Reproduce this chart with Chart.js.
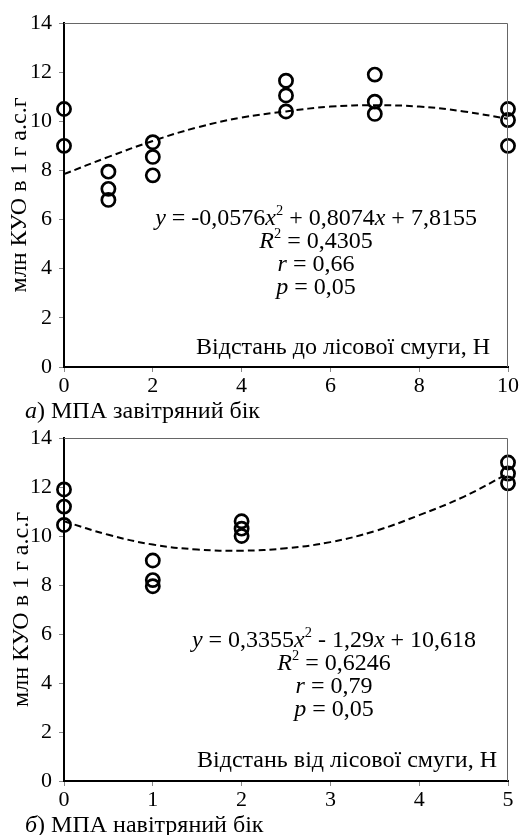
<!DOCTYPE html>
<html>
<head>
<meta charset="utf-8">
<script src="https://cdn.jsdelivr.net/npm/chart.js@4/dist/chart.umd.min.js"></script>
<style>
  html, body { margin: 0; padding: 0; background: #fff; }
  body { width: 520px; height: 835px; position: relative; overflow: hidden; }
  canvas { position: absolute; left: 0; }
  #c1 { top: 0; }
  #c2 { top: 415px; }
</style>
</head>
<body>
<canvas id="c1" width="520" height="430"></canvas>
<canvas id="c2" width="520" height="420"></canvas>
<script>
// ---------- DATA ----------
// Chart a) leeward side
const topX = [0, 0, 1, 1, 1, 2, 2, 2, 5, 5, 5, 7, 7, 7, 10, 10, 10];
const topY = [10.5, 9.0, 7.95, 7.25, 6.8, 9.15, 8.55, 7.8, 11.65, 11.05, 10.4, 11.9, 10.8, 10.3, 10.5, 10.05, 9.0];
const topTrendX = [0, 1, 2, 3, 4, 5, 6, 7, 8, 9, 10];
const topTrendY = [7.85, 8.55, 9.2, 9.75, 10.15, 10.4, 10.6, 10.65, 10.6, 10.4, 10.1];
const topXTicks = [0, 2, 4, 6, 8, 10];

// Chart b) windward side
const botX = [0, 0, 0, 1, 1, 1, 2, 2, 2, 5, 5, 5];
const botY = [11.9, 11.2, 10.45, 9.0, 8.2, 7.95, 10.6, 10.3, 10.0, 13.0, 12.55, 12.15];
const botTrendX = [0, 0.5, 1, 1.5, 2, 2.5, 3, 3.5, 4, 4.5, 5];
const botTrendY = [10.6, 10.05, 9.65, 9.45, 9.4, 9.5, 9.75, 10.2, 10.85, 11.6, 12.55];
const botXTicks = [0, 1, 2, 3, 4, 5];

const yTicks = [0, 2, 4, 6, 8, 10, 12, 14];

const yTitle = 'млн КУО в 1 г а.с.г';
const topEq = [
  [{t:'y', i:1}, {t:' = -0,0576'}, {t:'x', i:1}, {t:'2', s:1}, {t:' + 0,8074'}, {t:'x', i:1}, {t:' + 7,8155'}],
  [{t:'R', i:1}, {t:'2', s:1}, {t:' = 0,4305'}],
  [{t:'r', i:1}, {t:' = 0,66'}],
  [{t:'p', i:1}, {t:' = 0,05'}]
];
const botEq = [
  [{t:'y', i:1}, {t:' = 0,3355'}, {t:'x', i:1}, {t:'2', s:1}, {t:' - 1,29'}, {t:'x', i:1}, {t:' + 10,618'}],
  [{t:'R', i:1}, {t:'2', s:1}, {t:' = 0,6246'}],
  [{t:'r', i:1}, {t:' = 0,79'}],
  [{t:'p', i:1}, {t:' = 0,05'}]
];
const topInner = 'Відстань до лісової смуги, Н';
const botInner = 'Відстань від лісової смуги, Н';
const topCaption = [{t:'а', i:1}, {t:') МПА завітряний бік'}];
const botCaption = [{t:'б', i:1}, {t:') МПА навітряний бік'}];

// ---------- RENDERING ----------
const FONT = "'Liberation Serif', 'Times New Roman', serif";

function drawRich(ctx, segs, x, baseline, size, align) {
  let total = 0;
  const ms = segs.map(sg => {
    const fs = sg.s ? size * 0.6 : size;
    const f = (sg.i ? 'italic ' : '') + fs + 'px ' + FONT;
    ctx.font = f;
    const w = ctx.measureText(sg.t).width;
    total += w;
    return {sg, f, w};
  });
  let cx = align === 'center' ? x - total / 2 : (align === 'right' ? x - total : x);
  ctx.textBaseline = 'alphabetic';
  ctx.textAlign = 'left';
  ms.forEach(m => {
    ctx.font = m.f;
    ctx.fillText(m.sg.t, cx, m.sg.s ? baseline - size * 0.42 : baseline);
    cx += m.w;
  });
}

const annot = {
  id: 'annot',
  afterDraw(chart, args, o) {
    const ctx = chart.ctx;
    const a = chart.chartArea;
    ctx.save();
    // frame top & right
    ctx.strokeStyle = '#666';
    ctx.lineWidth = 1;
    ctx.beginPath();
    ctx.moveTo(a.left, a.top + 0.5);
    ctx.lineTo(a.right - 0.5, a.top + 0.5);
    ctx.lineTo(a.right - 0.5, a.bottom);
    ctx.stroke();
    ctx.fillStyle = '#000';
    // y title
    ctx.save();
    ctx.translate(o.yTitleX, (a.top + a.bottom) / 2);
    ctx.rotate(-Math.PI / 2);
    ctx.font = '24px ' + FONT;
    ctx.textAlign = 'center';
    ctx.textBaseline = 'middle';
    ctx.fillText(yTitle, 0, 0);
    ctx.restore();
    // equation
    o.eq.forEach((line, k) => drawRich(ctx, line, o.eqX, o.eqY + k * 23, 24, 'center'));
    // inner x label
    ctx.font = '24px ' + FONT;
    ctx.textAlign = 'right';
    ctx.textBaseline = 'alphabetic';
    ctx.fillText(o.inner, o.innerX, o.innerY);
    // caption
    drawRich(ctx, o.caption, 25, o.capY, 24, 'left');
    ctx.restore();
  }
};

function makeChart(id, H, xs, ys, tx, ty, xmax, xTickVals, bottomPx, opts) {
  return new Chart(document.getElementById(id), {
    type: 'scatter',
    data: {
      datasets: [
        {
          data: tx.map((x, i) => ({x, y: ty[i]})),
          showLine: true,
          borderColor: '#000',
          borderWidth: 2,
          borderDash: [7, 4],
          pointRadius: 0,
          tension: 0.4,
          fill: false
        },
        {
          data: xs.map((x, i) => ({x, y: ys[i]})),
          pointStyle: 'circle',
          pointRadius: 6.6,
          pointBorderWidth: 2.7,
          borderColor: '#000',
          backgroundColor: 'rgba(0,0,0,0)',
          clip: false
        }
      ]
    },
    options: {
      responsive: false,
      animation: false,
      devicePixelRatio: 1,
      layout: { padding: { left: 0, top: 23, right: 12, bottom: 0 } },
      plugins: { legend: { display: false }, tooltip: { enabled: false }, annot: opts },
      scales: {
        x: {
          type: 'linear', min: 0, max: xmax,
          afterFit: s => { s.height = H - bottomPx; },
          afterBuildTicks: s => { s.ticks = xTickVals.map(v => ({value: v})); },
          border: { color: '#000', width: 2 },
          grid: { drawOnChartArea: false, drawTicks: true, tickLength: 5, color: '#888', lineWidth: 1 },
          ticks: { color: '#000', font: { family: FONT, size: 22 }, padding: 1, maxRotation: 0 }
        },
        y: {
          type: 'linear', min: 0, max: 14,
          afterFit: s => { s.width = 64; },
          afterBuildTicks: s => { s.ticks = yTicks.map(v => ({value: v})); },
          border: { color: '#000', width: 2 },
          grid: { drawOnChartArea: false, drawTicks: true, tickLength: 5, color: '#888', lineWidth: 1 },
          ticks: { color: '#000', font: { family: FONT, size: 22 }, padding: 7 }
        }
      }
    },
    plugins: [annot]
  });
}

makeChart('c1', 430, topX, topY, topTrendX, topTrendY, 10, topXTicks, 367, {
  yTitleX: 20, eq: topEq, eqX: 316, eqY: 225, inner: topInner, innerX: 490, innerY: 354,
  caption: topCaption, capY: 418
});
makeChart('c2', 420, botX, botY, botTrendX, botTrendY, 5, botXTicks, 366, {
  yTitleX: 22, eq: botEq, eqX: 334, eqY: 232, inner: botInner, innerX: 497, innerY: 352,
  caption: botCaption, capY: 417
});
</script>
</body>
</html>
